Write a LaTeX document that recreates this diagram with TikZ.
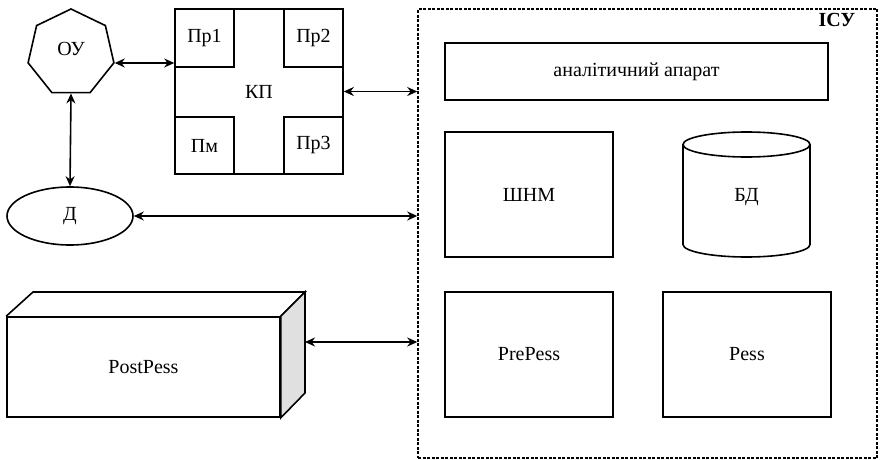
\documentclass[tikz,border=0pt]{standalone}
\usepackage{fontspec}
\setmainfont{Liberation Serif}
\newfontfamily\diagfont{Liberation Serif}
\usetikzlibrary{shapes.geometric,arrows.meta}
\tikzset{
  every node/.style={font=\diagfont\fontsize{20}{24}\selectfont},
  box/.style={draw,line width=1.6pt,rectangle,inner sep=0pt},
  link/.style={line width=1.6pt,{Stealth[length=10pt,width=9pt]}-{Stealth[length=10pt,width=9pt]}},
  outline/.style={line width=1.6pt,line join=miter},
}
\begin{document}
\begin{tikzpicture}[x=1pt,y=1pt]
\useasboundingbox (0,0) rectangle (880,-460);
% ISU
\node[draw,line width=1.5pt,dash pattern=on 3pt off 1.5pt,minimum width=459pt,minimum height=449pt,inner sep=0pt] (isu) at (647.5,-233.5) {};
\node[font=\diagfont\fontsize{20}{24}\selectfont\bfseries] (isul) at (837,-20) {ІСУ};
\node[box,minimum width=383pt,minimum height=57pt] (ana) at (636.5,-71.5) {аналітичний апарат};
\node[box,minimum width=168pt,minimum height=125pt] (shnm) at (529,-194.5) {ШНМ};
\node[box,minimum width=168pt,minimum height=125pt] (pre) at (529,-354.5) {PrePess};
\node[box,minimum width=168pt,minimum height=125pt] (pess) at (747,-354.5) {Pess};
% cylinder
\draw[outline] (683,-144.5) -- (683,-244.5) arc[start angle=180,end angle=360,x radius=63.5,y radius=12.5] -- (810,-144.5);
\draw[outline] (746.5,-144.5) ellipse[x radius=63.5,y radius=12.5];
\node (bd) at (746.5,-197) {БД};
% OU
\node[draw,line width=1.6pt,regular polygon,regular polygon sides=7,minimum size=88pt,inner sep=0pt] (ou) at (71,-53) {};
\node (oul) at (71,-49) {ОУ};
% KP
\node[box,minimum width=168pt,minimum height=165pt] (kp) at (259,-91.5) {КП};
\node[box,minimum width=59pt,minimum height=58pt] (p1) at (204.5,-38) {Пр1};
\node[box,minimum width=59pt,minimum height=58pt] (p2) at (313.5,-38) {Пр2};
\node[box,minimum width=59pt,minimum height=57pt] (pm) at (204.5,-145.5) {Пм};
\node[box,minimum width=59pt,minimum height=57pt] (p3) at (313.5,-145.5) {Пр3};
% D
\node[draw,line width=1.6pt,ellipse,minimum width=126pt,minimum height=58pt,inner sep=0pt] (d) at (70,-216) {Д};
% PostPess
\node[box,minimum width=273pt,minimum height=100pt] (post) at (143.5,-367) {PostPess};
\draw[outline] (post.north west) -- (33,-292) -- (305,-292) -- (post.north east);
\draw[outline,fill=black!12] (post.north east) -- (305,-292) -- (305,-393) -- (post.south east) -- cycle;
\coordinate (postr) at (305,-342);
% links
\draw[link] (ou.corner 6) -- (ou.corner 6 -| kp.west);
\draw[link] (ou.side 4) -- (d.north);
\draw[link] (kp.east) -- (kp.east -| isu.west);
\draw[link] (d.east) -- (d.east -| isu.west);
\draw[link] (postr) -- (postr -| isu.west);
\end{tikzpicture}
\end{document}
